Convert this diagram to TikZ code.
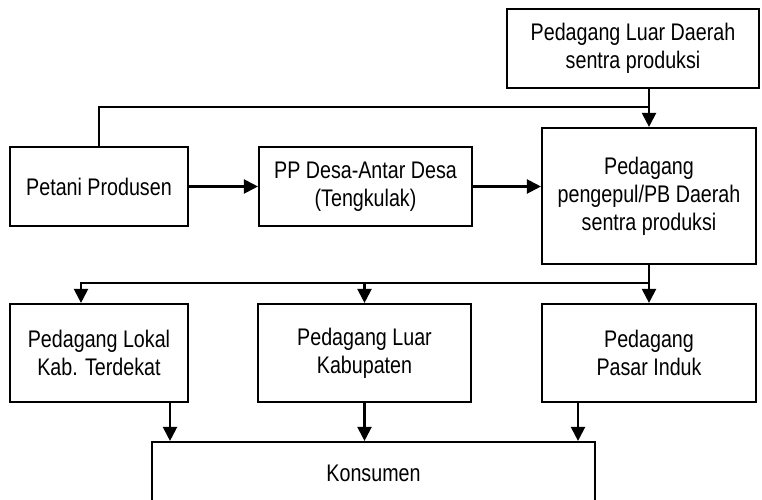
\documentclass[tikz,border=0pt]{standalone}
\usepackage{fontspec}
\setmainfont{Liberation Sans}[FakeStretch=0.82]
\usepackage{tikz}
\usetikzlibrary{positioning,arrows.meta,calc}

\begin{document}
\begin{tikzpicture}[x=0.75pt,y=-0.75pt,
  box/.style={draw, line width=1.6pt, align=center, inner sep=0pt,
    font=\fontsize{18}{21}\selectfont},
  link/.style={line width=1.6pt},
  arr/.style={line width=1.6pt,-{Triangle[length=10.5pt,width=10.5pt]}}]
\clip (0,0) rectangle (762,499);
% upper row
\node[box, minimum width=189pt, minimum height=59.25pt] (luar) at (633,48.5) {Pedagang Luar Daerah\\sentra produksi};
\node[box, minimum width=133.5pt, minimum height=59.25pt] (petani) at (99,186.5) {Petani Produsen};
\node[box, minimum width=159.75pt, minimum height=59.25pt] (pp) at (365.5,186.5) {PP Desa-Antar Desa\\(Tengkulak)};
\node[box, minimum width=160.5pt, minimum height=102pt] (pengepul) at (649,196) {Pedagang\\pengepul/PB Daerah\\sentra produksi};
% lower row
\node[box, minimum width=133.5pt, minimum height=73.5pt] (lokal) at (99,353) {Pedagang Lokal\\Kab. Terdekat};
\node[box, minimum width=159.75pt, minimum height=73.5pt] (luarkab) at (364.5,353) {Pedagang Luar\\Kabupaten};
\node[box, minimum width=160.5pt, minimum height=73.5pt] (induk) at (649,353) {Pedagang\\Pasar Induk};
\node[box, minimum width=332.25pt, minimum height=46.5pt] (konsumen) at (373.5,473) {Konsumen};
% joints
\coordinate (top) at (649,107);
\coordinate (split) at (649,283);
\coordinate (lk) at ([xshift=53.25pt]lokal.south);
\coordinate (ik) at ([xshift=-53.25pt]induk.south);
% flows into the collector
\draw[arr] (pengepul.north |- luar.south) -- (pengepul.north);
\draw[link] (petani.north) |- (top);
\draw[arr] (petani.east) -- (pp.west);
\draw[arr] (pp.east) -- (pp.east -| pengepul.west);
% distribution
\draw[arr] (pengepul.south) -- (induk.north);
\draw[arr] (split) -| ([xshift=-13.5pt]lokal.north);
\draw[arr] (luarkab.north |- split) -- (luarkab.north);
% to consumers
\draw[arr] (lk) -- (lk |- konsumen.north);
\draw[arr] (luarkab.south) -- (konsumen.north -| luarkab.south);
\draw[arr] (ik) -- (ik |- konsumen.north);
\end{tikzpicture}
\end{document}
